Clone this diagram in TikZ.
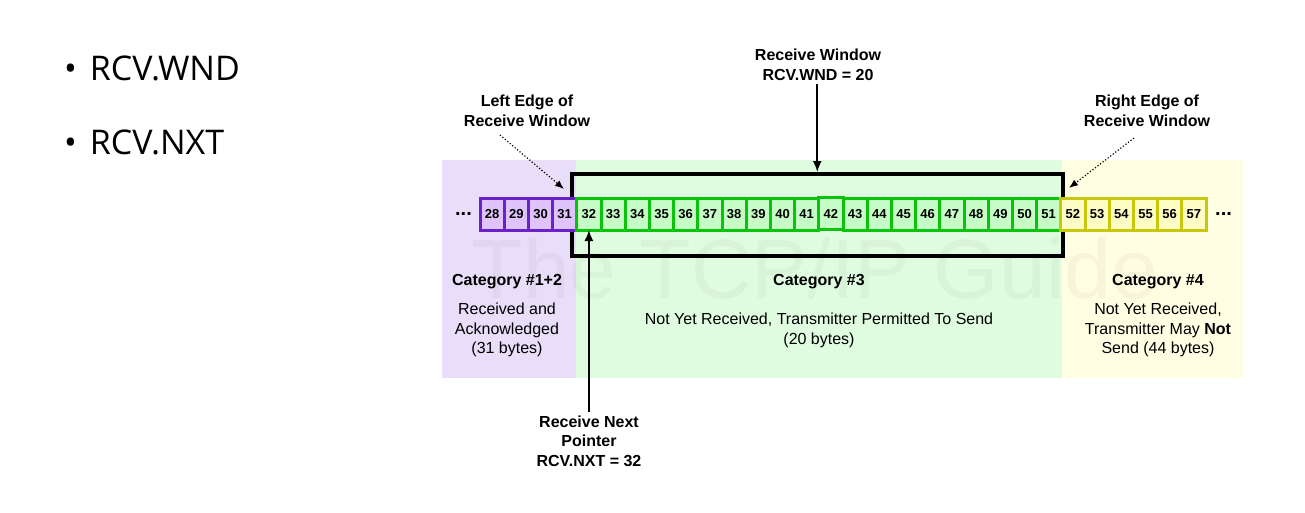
\documentclass[tikz,border=0pt]{standalone}
\usepackage{fontspec}
\setmainfont{Liberation Sans}
\newfontfamily\slidefont{Open Sans}
\usepackage{xcolor}
\usetikzlibrary{arrows.meta,matrix,positioning}

\definecolor{rcvdBg}{RGB}{233,222,250}
\definecolor{wndBg}{RGB}{224,252,224}
\definecolor{nosendBg}{RGB}{255,254,226}
\definecolor{rcvdLine}{RGB}{104,34,200}
\definecolor{rcvdFill}{RGB}{222,196,250}
\definecolor{wndLine}{RGB}{10,195,10}
\definecolor{wndFill}{RGB}{198,252,198}
\definecolor{nosendLine}{RGB}{200,200,10}
\definecolor{nosendFill}{RGB}{252,252,196}

\tikzset{
  cell/.style={draw, line width=3pt, minimum width=24.2pt, minimum height=32pt,
    inner sep=0pt, outer sep=0pt, font=\fontsize{13}{13}\selectfont\bfseries},
  rcvd/.style={cell, draw=rcvdLine, fill=rcvdFill},
  wnd/.style={cell, draw=wndLine, fill=wndFill},
  nosend/.style={cell, draw=nosendLine, fill=nosendFill},
  lbl/.style={align=center, font=\fontsize{16}{19.5}\selectfont\bfseries},
  txt/.style={align=center, font=\fontsize{16}{19.5}\selectfont},
  item/.style={anchor=west, inner sep=0pt, font=\slidefont\fontsize{34}{40}\selectfont},
  pointer/.style={-{Latex[length=11pt,width=9pt]}, line width=1.8pt},
  edge/.style={-{Latex[length=9pt,width=7pt]}, line width=1.2pt, dotted},
  more/.style={inner sep=0pt, font=\fontsize{20}{20}\selectfont\bfseries},
}

\begin{document}
\begin{tikzpicture}[x=1pt, y=-1pt]
\useasboundingbox (0,0) rectangle (1305,512);

% slide bullets
\node (wndItem) [item] at (64,68) {\textbullet\hspace{13pt}RCV.WND};
\node (nxtItem) [item] at (64,142) {\textbullet\hspace{13pt}RCV.NXT};

% category backgrounds
\fill[rcvdBg] (442,160) rectangle (576,378);
\fill[wndBg] (576,160) rectangle (1062,378);
\fill[nosendBg] (1062,160) rectangle (1243,378);
\node (mark) [text=black, opacity=0.035, font=\fontsize{84}{84}\selectfont] at (815,268) {The TCP/IP Guide};

% receive window bracket
\node (rcvwnd) [draw, line width=4pt, minimum width=490.5pt, minimum height=81.5pt, inner sep=0pt] at (817.25,214.75) {};

\matrix[name=M1, matrix of nodes, inner sep=0pt, column sep=-3pt, nodes={wnd}] at (843,214) {
  |[rcvd]| 28 & |[rcvd]| 29 & |[rcvd]| 30 & |[rcvd]| 31 &
  32 & 33 & 34 & 35 & 36 & 37 & 38 & 39 & 40 & 41 & 42 & 43 & 44 & 45 & 46 & 47 & 48 & 49 & 50 & 51 &
  |[nosend]| 52 & |[nosend]| 53 & |[nosend]| 54 & |[nosend]| 55 & |[nosend]| 56 & |[nosend]| 57 \\
};
\node (dotsL) [more, left=8pt of M1-1-1] {...};
\node (dotsR) [more, right=9pt of M1-1-30] {...};

% labels above
\node (wndLbl) [lbl] at (818,65) {Receive Window\\RCV.WND = 20};
\node (leftLbl) [lbl] at (527,111) {Left Edge of\\Receive Window};
\node (rightLbl) [lbl] at (1147,111) {Right Edge of\\Receive Window};
\coordinate (leftTip) at (564,189);
\coordinate (rightTip) at (1069,188);
\coordinate (leftTail) at (500,135);
\coordinate (rightTail) at (1134,138);

% category texts
\node (cat12) [lbl] at (507,282) {Category \#1+2};
\node (cat12Txt) [txt] at (507,330) {Received and\\Acknowledged\\(31 bytes)};
\node (cat3) [lbl] at (819,282) {Category \#3};
\node (cat3Txt) [txt] at (819,330.5) {Not Yet Received, Transmitter Permitted To Send\\(20 bytes)};
\node (cat4) [lbl] at (1158,282) {Category \#4};
\node (cat4Txt) [txt] at (1158,330) {Not Yet Received,\\Transmitter May \textbf{Not}\\Send (44 bytes)};

\node (nxtLbl) [lbl] at (589,441) {Receive Next\\Pointer\\RCV.NXT = 32};

\draw[pointer] (wndLbl.south -| rcvwnd.north) -- (rcvwnd.north);
\draw[pointer] (nxtLbl.north -| M1-1-5.south) -- (M1-1-5.south);
\draw[edge] (leftTail) -- (leftTip);
\draw[edge] (rightTail) -- (rightTip);

\end{tikzpicture}
\end{document}
